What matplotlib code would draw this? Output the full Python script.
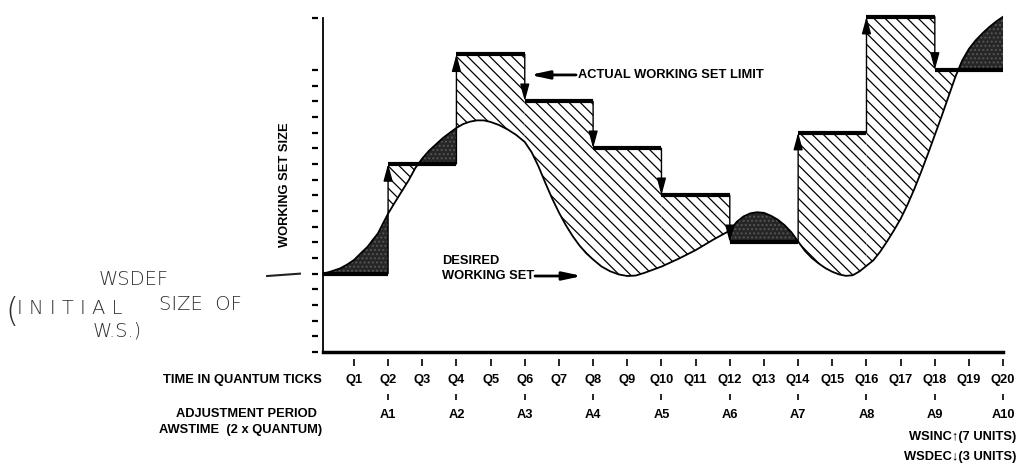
import numpy as np
import matplotlib.pyplot as plt

plt.rcParams['font.family'] = ['Liberation Sans', 'DejaVu Sans']
plt.rcParams['hatch.linewidth'] = 0.9

# time axis
quantum_pos = [1, 2, 3, 4, 5, 6, 7, 8, 9, 10, 11, 12, 13, 14, 15, 16, 17, 18, 19, 20]
quantum_labels = ['Q1', 'Q2', 'Q3', 'Q4', 'Q5', 'Q6', 'Q7', 'Q8', 'Q9', 'Q10',
                  'Q11', 'Q12', 'Q13', 'Q14', 'Q15', 'Q16', 'Q17', 'Q18', 'Q19', 'Q20']
period_pos = [2, 4, 6, 8, 10, 12, 14, 16, 18, 20]
period_labels = ['A1', 'A2', 'A3', 'A4', 'A5', 'A6', 'A7', 'A8', 'A9', 'A10']
size_ticks = [0, 1, 2, 3, 4, 5, 6, 7, 8, 9, 10, 11, 12, 13, 14, 15, 16, 17, 18, 21.3]

# actual working set limit (step function, units)
limit_edges = [0.1, 2, 4, 6, 8, 10, 12, 14, 16, 18, 20]
limit_levels = [5, 12, 19, 16, 13, 10, 7, 14, 21.4, 18]

# desired working set
desired_q = [0.1, 0.3, 0.6, 0.8, 1.0, 1.2, 1.4, 1.55, 1.7, 1.85, 2.0,
             2.2, 2.4, 2.6, 2.8, 3.0, 3.2, 3.4, 3.6, 3.8, 4.0,
             4.2, 4.4, 4.6, 4.8, 5.0, 5.25, 5.5, 5.75, 6.0,
             6.2, 6.4, 6.6, 6.8, 7.0, 7.2, 7.4, 7.6, 7.8, 8.0,
             8.25, 8.5, 8.75, 9.0, 9.25, 9.5, 9.75, 10.0,
             10.5, 11.0, 11.5, 12.0,
             12.2, 12.4, 12.6, 12.8, 13.0, 13.2, 13.4, 13.6, 13.8, 14.0,
             14.2, 14.4, 14.6, 14.8, 15.0, 15.2, 15.4, 15.6, 15.8, 16.0,
             16.2, 16.4, 16.6, 16.8, 17.0, 17.2, 17.4, 17.6, 17.8, 18.0,
             18.2, 18.4, 18.6, 18.8, 19.0, 19.2, 19.4, 19.6, 19.8, 20.0]
desired_size = [5.0, 5.12, 5.34, 5.58, 5.87, 6.3, 6.72, 7.15, 7.56, 8.2, 8.83,
                9.55, 10.25, 10.95, 11.75, 12.35, 12.85, 13.25, 13.65, 13.98, 14.3,
                14.55, 14.7, 14.78, 14.78, 14.68, 14.48, 14.2, 13.85, 13.4,
                12.75, 11.85, 10.8, 9.8, 8.9, 8.1, 7.4, 6.8, 6.3, 5.9,
                5.45, 5.15, 4.95, 4.85, 4.88, 5.05, 5.25, 5.45,
                5.95, 6.5, 7.15, 7.75,
                8.3, 8.65, 8.85, 8.92, 8.88, 8.7, 8.45, 8.1, 7.65, 7.05,
                6.45, 6.0, 5.65, 5.35, 5.12, 4.95, 4.86, 4.9, 5.15, 5.5,
                5.85, 6.4, 7.05, 7.75, 8.5, 9.4, 10.4, 11.5, 12.65, 13.85,
                15.05, 16.3, 17.55, 18.6, 19.35, 19.9, 20.35, 20.75, 21.1, 21.4]

fig = plt.figure(figsize=(10.17, 4.66), dpi=100)
ax = fig.add_axes([0.3144, 0.2446, 0.672, 0.7466])
ax.set_xlim(0, 20)
ax.set_ylim(0, 22.2)

q = np.array(desired_q)
s = np.array(desired_size)

# shaded areas between the limit and the desired curve
for i, level in enumerate(limit_levels):
    x0, x1 = limit_edges[i], limit_edges[i + 1]
    m = (q >= x0) & (q <= x1)
    xs, ys = q[m], s[m]
    ax.fill_between(xs, ys, level, where=ys >= level, interpolate=True,
                    facecolor='#262626', edgecolor='#565656', hatch='....', lw=0)
    ax.fill_between(xs, ys, level, where=ys <= level, interpolate=True,
                    facecolor='white', edgecolor='black', hatch='\\\\\\', lw=0)

ax.plot(q, s, color='black', lw=1.3)

# limit steps
ax.hlines(limit_levels, limit_edges[:-1], limit_edges[1:], color='black', lw=3)
for i in range(1, len(limit_levels)):
    ax.annotate('', xy=(limit_edges[i], limit_levels[i]),
                xytext=(limit_edges[i], limit_levels[i - 1]),
                arrowprops=dict(arrowstyle='-|>,head_length=1.3,head_width=0.35',
                                mutation_scale=8, lw=1, color='black',
                                shrinkA=0, shrinkB=0))

# axes
for sp in ['top', 'right']:
    ax.spines[sp].set_visible(False)
ax.spines['left'].set_position(('data', 0.1))
ax.spines['left'].set_bounds(0, 21.3)
ax.spines['left'].set_linewidth(1.3)
ax.spines['bottom'].set_bounds(0.1, 20)
ax.spines['bottom'].set_linewidth(2.5)
ax.set_xticks([])
ax.set_yticks([])
ax.plot([-0.15] * len(size_ticks), size_ticks, ls='none', marker='_', ms=4,
        mew=1.6, color='black', clip_on=False)

fs = 9.3
ax.text(-1.02, 10.66, 'WORKING SET SIZE', rotation=90, ha='center', va='center',
        fontsize=fs, fontweight='bold')

# labels under the axis
ax.vlines(quantum_pos, -0.9, -0.45, color='black', lw=1.2, clip_on=False)
ax.vlines(period_pos, -3.05, -2.65, color='black', lw=1.2, clip_on=False)
for x, lab in zip(quantum_pos, quantum_labels):
    ax.text(x, -1.79, lab, ha='center', va='center', fontsize=fs, fontweight='bold')
for x, lab in zip(period_pos, period_labels):
    ax.text(x, -4.05, lab, ha='center', va='center', fontsize=fs, fontweight='bold')

ax.text(0.07, -1.79, 'TIME IN QUANTUM TICKS', ha='right', va='center',
        fontsize=fs, fontweight='bold')
ax.text(-0.08, -3.95, 'ADJUSTMENT PERIOD', ha='right', va='center',
        fontsize=fs, fontweight='bold')
ax.text(0.07, -4.98, 'AWSTIME  (2 x QUANTUM)', ha='right', va='center',
        fontsize=fs, fontweight='bold')
ax.text(20.38, -5.42, 'WSINC\u2191(7 UNITS)', ha='right', va='center',
        fontsize=fs, fontweight='bold')
ax.text(20.38, -6.70, 'WSDEC\u2193(3 UNITS)', ha='right', va='center',
        fontsize=fs, fontweight='bold')

# callouts
ax.annotate('', xy=(6.15, 17.68), xytext=(7.5, 17.68),
            arrowprops=dict(arrowstyle='-|>,head_length=1.4,head_width=0.3',
                            mutation_scale=8, lw=2, color='black',
                            shrinkA=0, shrinkB=0))
ax.text(7.55, 17.68, 'ACTUAL WORKING SET LIMIT', ha='left', va='center',
        fontsize=fs, fontweight='bold')
ax.text(3.58, 5.8, 'DESIRED', ha='left', va='center', fontsize=fs, fontweight='bold')
ax.text(3.58, 4.85, 'WORKING SET', ha='left', va='center', fontsize=fs, fontweight='bold')
ax.annotate('', xy=(7.68, 4.85), xytext=(6.3, 4.85),
            arrowprops=dict(arrowstyle='-|>,head_length=1.4,head_width=0.3',
                            mutation_scale=8, lw=2, color='black',
                            shrinkA=0, shrinkB=0))

# handwritten note
hand = dict(family='DejaVu Sans', fontweight='light', color='#2e2e2e',
            va='center')
ax.plot([-1.54, -0.58], [4.85, 5.0], color='#222222', lw=1.5, clip_on=False)
ax.text(-5.46, 4.6, 'WSDEF', fontsize=14, ha='center', **hand)
ax.text(-9.2, 2.55, '(', fontsize=24, ha='left', **hand)
ax.text(-8.85, 2.8, 'I N I T I A L', fontsize=14, ha='left', **hand)
ax.text(-4.7, 3.05, 'SIZE  OF', fontsize=14, ha='left', **hand)
ax.text(-5.93, 1.34, 'W.S.)', fontsize=14, ha='center', **hand)

fig.savefig('out.png', dpi=100)
